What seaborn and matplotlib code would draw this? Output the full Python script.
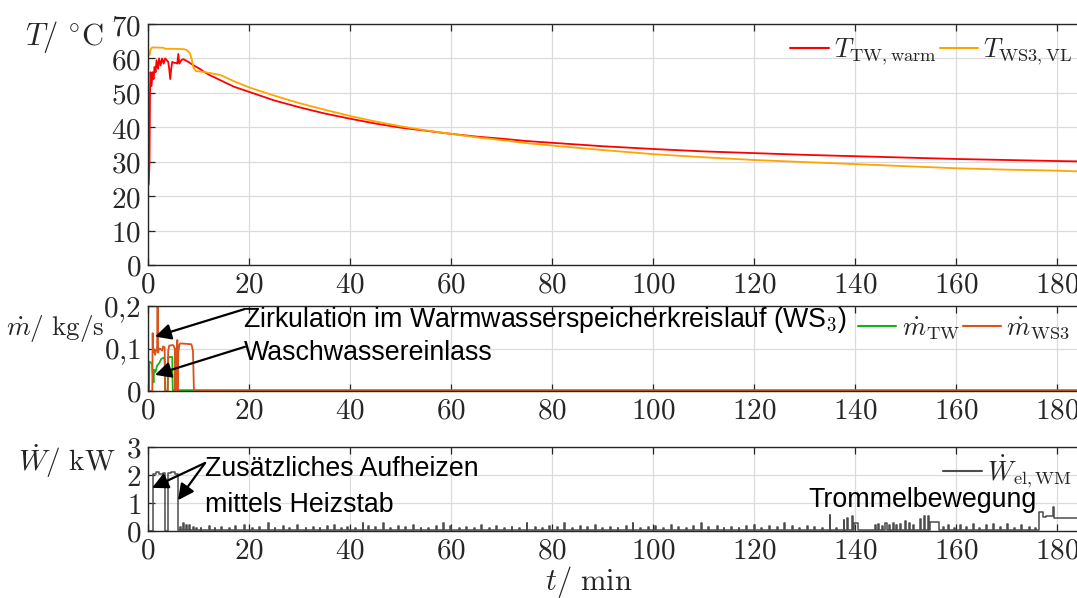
import matplotlib
matplotlib.use("Agg")
import matplotlib.pyplot as plt
import seaborn as sns
from matplotlib.lines import Line2D

# ---------------- data ----------------
t_T_warm = [0, 0.15, 0.3, 0.4, 0.5, 0.7, 0.9, 1.1, 1.3, 1.5, 1.7, 2.0, 2.2, 2.5, 2.8, 3.1, 3.4,
            3.7, 4.0, 4.2, 4.4, 4.6, 4.8, 5.2, 5.6, 5.8, 6.0, 6.2, 6.6, 7.0, 8.0, 9.0, 10.0,
            12, 14.3, 17, 20, 25, 30, 35, 40, 45, 50, 55, 60, 65, 70, 75, 80, 90, 100, 110,
            120, 130, 140, 150, 160, 170, 180, 184]
T_TW_warm = [23, 23.5, 30, 50, 56, 52, 56, 54, 57.5, 56, 59.5, 57, 60, 58, 60, 58.5, 60,
             59.5, 59, 57, 54, 57, 59, 58.7, 58.7, 58.5, 61.3, 58.5, 59.5, 59.8, 59, 58, 57.2,
             55.3, 53.7, 51.8, 50.3, 47.8, 45.8, 44.0, 42.5, 41.1, 39.9, 39.0, 38.1, 37.3, 36.7,
             36.0, 35.5, 34.5, 33.7, 33.0, 32.5, 32.0, 31.6, 31.2, 30.8, 30.5, 30.2, 30.1]

t_T_vl = [0, 0.3, 0.5, 0.8, 3.0, 3.5, 5.0, 7.0, 7.6, 8.3, 8.7, 9.0, 9.5, 11, 14.3, 17, 20, 25,
          30, 35, 40, 45, 50, 55, 60, 65, 70, 75, 80, 90, 100, 110, 120, 130, 140, 150, 160,
          170, 180, 184]
T_WS3_VL = [61.5, 61.0, 62.5, 63.2, 63.1, 62.8, 62.8, 62.7, 62.5, 61.5, 59.5, 57.3, 56.3, 56.1,
            55.2, 53.4, 51.6, 49.2, 47.0, 45.1, 43.3, 41.7, 40.3, 39.1, 38.1, 37.1, 36.3, 35.4,
            34.7, 33.4, 32.2, 31.3, 30.5, 29.9, 29.3, 28.7, 28.1, 27.7, 27.4, 27.2]

t_m_tw = [0, 0.2, 0.27, 0.8, 0.9, 1.1, 1.2, 1.5, 1.8, 2.2, 2.6, 3.0, 3.3, 3.4, 3.9, 4.0, 4.8,
          4.9, 9.0, 184]
m_TW = [0, 0, 0.069, 0.065, 0.045, 0.02, 0.05, 0.045, 0.06, 0.065, 0.075, 0.078, 0.075, 0,
        0, 0.08, 0.08, 0.002, 0.002, 0.002]

t_m_ws3 = [0, 0.85, 0.92, 1.0, 1.2, 1.4, 1.6, 1.8, 1.9, 2.0, 2.2, 2.6, 2.8, 3.0, 3.3, 3.4,
           3.9, 4.0, 4.2, 5.0, 5.3, 5.4, 5.6, 5.7, 5.8, 5.9, 6.0, 6.2, 6.4, 8.6, 8.9, 9.1, 184]
m_WS3 = [0, 0, 0.136, 0.092, 0.098, 0.085, 0.095, 0.1, 0.2, 0.09, 0.1, 0.098, 0.095, 0.105,
         0.103, 0.0, 0.0, 0.095, 0.107, 0.108, 0.1, 0.0, 0.1, 0.0, 0.12, 0.0, 0.09, 0.108,
         0.112, 0.11, 0.095, 0.0, 0.0]

# electrical power: main level changes
W_seg_t = [0, 0.92, 1.5, 2.2, 2.9, 3.45, 3.9, 4.6, 5.3, 5.9, 176.4, 177.3, 177.8, 179.2,
           179.5, 184.5]
W_seg_v = [0.0, 2.05, 2.09, 2.04, 2.08, 0.0, 2.06, 2.09, 2.05, 0.04, 0.69, 0.49, 0.53, 0.85,
           0.45, 0.45]
W_base = 0.04
# short peaks during the rest of the programme: start, width, height
spike_t = [6.3, 6.9, 7.5, 8.2, 8.9, 9.6, 10.4, 12.0, 13.2, 14.5, 16.0, 17.3, 19.0, 20.5, 22.0,
           23.8, 25.1, 26.7, 28.0, 29.5, 31.2, 32.6, 34.0, 35.4, 36.8, 38.2, 39.5, 41.0, 42.5,
           43.6, 45.0, 46.6, 48.0, 49.5, 51.0, 52.4, 54.0, 55.5, 57.0, 58.4, 59.8, 61.5, 63.0,
           64.5, 66.0, 67.5, 69.0, 70.5, 72.0, 73.5, 75.0, 76.6, 78.0, 79.5, 81.0, 82.4, 84.0,
           85.6, 87.0, 88.5, 90.0, 91.6, 93.0, 94.6, 96.0, 97.5, 99.0, 100.5, 102.0, 103.6,
           105.0, 106.6, 108.0, 109.6, 111.0, 112.6, 114.0, 115.5, 117.0, 118.5, 120.0, 121.5,
           123.0, 124.5, 126.0, 127.5, 129.0, 130.5, 132.0, 133.5, 135.0, 136.3, 137.8, 138.4,
           139.4, 139.8, 140.7, 143.9, 144.6, 145.3, 146.0, 146.8, 147.5, 148.2, 148.9, 150.0,
           150.8, 151.6, 153.0, 153.7, 154.4, 154.8, 157.5, 158.5, 159.6, 160.8, 162.0, 163.4,
           164.6, 166.0, 167.4, 168.8, 170.2, 171.6, 173.0, 174.4, 175.6]
spike_w = [0.2, 0.15, 0.2, 0.15, 0.2, 0.15, 0.15, 0.2, 0.15, 0.2, 0.15, 0.2, 0.15, 0.2, 0.15,
           0.2, 0.15, 0.2, 0.15, 0.2, 0.15, 0.2, 0.15, 0.2, 0.15, 0.2, 0.15, 0.2, 0.15,
           0.2, 0.15, 0.2, 0.15, 0.2, 0.15, 0.2, 0.15, 0.2, 0.15, 0.2, 0.15, 0.2, 0.15,
           0.2, 0.15, 0.2, 0.15, 0.2, 0.15, 0.2, 0.15, 0.2, 0.15, 0.2, 0.15, 0.2, 0.15,
           0.2, 0.15, 0.2, 0.15, 0.2, 0.15, 0.2, 0.15, 0.2, 0.15, 0.2, 0.15, 0.2,
           0.15, 0.2, 0.15, 0.2, 0.15, 0.2, 0.15, 0.2, 0.15, 0.2, 0.15, 0.2,
           0.15, 0.2, 0.15, 0.2, 0.15, 0.2, 0.15, 0.2, 0.15, 0.2, 0.15, 0.2,
           0.2, 0.9, 2.3, 0.2, 0.2, 0.2, 0.3, 0.2, 0.2, 0.2, 0.3, 0.2,
           0.2, 0.2, 0.2, 0.2, 0.2, 1.9, 0.2, 0.2, 0.2, 0.2, 0.2, 0.2,
           0.2, 0.2, 0.2, 0.2, 0.2, 0.2, 0.2, 0.2, 0.2]
spike_h = [0.15, 0.28, 0.2, 0.22, 0.15, 0.12, 0.1, 0.18, 0.1, 0.15, 0.1, 0.18, 0.22, 0.12, 0.15,
           0.27, 0.12, 0.18, 0.1, 0.22, 0.12, 0.15, 0.1, 0.18, 0.22, 0.12, 0.15, 0.1, 0.27,
           0.18, 0.15, 0.27, 0.12, 0.18, 0.15, 0.22, 0.12, 0.1, 0.18, 0.27, 0.18, 0.12, 0.15,
           0.1, 0.22, 0.12, 0.18, 0.1, 0.15, 0.12, 0.27, 0.15, 0.1, 0.18, 0.15, 0.27, 0.12,
           0.18, 0.15, 0.22, 0.1, 0.15, 0.12, 0.18, 0.27, 0.12, 0.15, 0.18, 0.12, 0.22,
           0.15, 0.1, 0.18, 0.27, 0.15, 0.18, 0.12, 0.15, 0.1, 0.18, 0.22, 0.12,
           0.18, 0.15, 0.27, 0.18, 0.12, 0.18, 0.15, 0.12, 0.57, 0.12, 0.39, 0.46,
           0.55, 0.27, 0.2, 0.2, 0.25, 0.18, 0.3, 0.22, 0.28, 0.2, 0.25, 0.37,
           0.3, 0.2, 0.43, 0.52, 0.55, 0.33, 0.15, 0.2, 0.12, 0.2, 0.15, 0.25,
           0.12, 0.2, 0.25, 0.15, 0.25, 0.12, 0.2, 0.15, 0.12]

x_ticks = [0, 20, 40, 60, 80, 100, 120, 140, 160, 180]
T_ticks = [0, 10, 20, 30, 40, 50, 60, 70]
m_ticks = [0, 0.1, 0.2]
m_ticklabels = ["$0$", "$0{,}1$", "$0{,}2$"]
W_ticks = [0, 1, 2, 3]

# ---------------- style ----------------
sns.set_theme(style="white")
plt.rcParams["mathtext.fontset"] = "cm"
plt.rcParams["font.family"] = ["Liberation Sans", "DejaVu Sans"]

W_pts = [(a, b) for a, b in zip(W_seg_t, W_seg_v)]
for s, w, h in zip(spike_t, spike_w, spike_h):
    W_pts.append((s, h))
    W_pts.append((s + w, W_base))
W_pts.sort(key=lambda p: p[0])
W_t = [p[0] for p in W_pts]
W_v = [p[1] for p in W_pts]

FW, FH = 1077, 598
fig = plt.figure(figsize=(FW / 100, FH / 100), dpi=100)
L = 148 / FW
Wd = (1077 - 148) / FW


def px(y_top, y_bot):
    return [L, 1 - y_bot / FH, Wd, (y_bot - y_top) / FH]


ax1 = fig.add_axes(px(24, 265))
ax2 = fig.add_axes(px(306, 391))
ax3 = fig.add_axes(px(447, 531))

kw = dict(estimator=None, sort=False, legend=False)
sns.lineplot(x=t_T_warm, y=T_TW_warm, ax=ax1, color="#FF0000", lw=1.3, **kw)
sns.lineplot(x=t_T_vl, y=T_WS3_VL, ax=ax1, color="#FFA500", lw=1.3, **kw)
sns.lineplot(x=t_m_tw, y=m_TW, ax=ax2, color="#14B414", lw=1.3, **kw)
sns.lineplot(x=t_m_ws3, y=m_WS3, ax=ax2, color="#D95319", lw=1.3, **kw)
sns.lineplot(x=W_t, y=W_v, ax=ax3, color="#4D4D4D", lw=1.1, drawstyle="steps-post", **kw)

tick_fs = 21
for ax, yt, ylim in [(ax1, T_ticks, (0, 70)), (ax2, m_ticks, (0, 0.2)), (ax3, W_ticks, (0, 3))]:
    ax.set_xlim(0, 184)
    ax.set_ylim(*ylim)
    ax.set_xticks(x_ticks)
    ax.set_xticklabels([f"${v}$" for v in x_ticks], fontsize=tick_fs)
    ax.set_yticks(yt)
    ax.grid(True, color="#DCDCDC", lw=0.9)
    ax.tick_params(axis="both", direction="in", length=5, width=0.9, color="#262626",
                   top=True, left=True, bottom=True, pad=5, labelcolor="#262626")
    ax.tick_params(axis="x", pad=4)
    for side in ["top", "left", "bottom"]:
        ax.spines[side].set_color("#262626")
        ax.spines[side].set_linewidth(1.0)
    ax.spines["right"].set_visible(False)
    ax.set_xlabel("")
    ax.set_ylabel("")

ax1.set_yticklabels([f"${v}$" for v in T_ticks], fontsize=tick_fs)
ax2.set_yticklabels(m_ticklabels, fontsize=tick_fs)
ax3.set_yticklabels([f"${v}$" for v in W_ticks], fontsize=tick_fs)


def ftext(x, y, s, **k):
    fig.text(x / FW, 1 - y / FH, s, **k)


ftext(25, 37, r"$T/\ ^{\circ}\mathrm{C}$", fontsize=22, va="center", ha="left", color="#262626")
ftext(6, 328, r"$\dot{m}/\ \mathrm{kg/s}$", fontsize=19.5, va="center", ha="left", color="#262626")
ftext(18, 461, r"$\dot{W}/\ \mathrm{kW}$", fontsize=21, va="center", ha="left", color="#262626")
ftext(589, 582, r"$t/\ \mathrm{min}$", fontsize=22, va="center", ha="center", color="#262626")


def leg(ax, handles, labels, x, y):
    ax.legend(handles, labels, loc="center right", bbox_to_anchor=(x / FW, 1 - y / FH),
              bbox_transform=fig.transFigure, ncol=len(handles), frameon=False, fontsize=19,
              handlelength=1.45, handletextpad=0.2, columnspacing=0.1, borderpad=0,
              borderaxespad=0)


leg(ax1, [Line2D([], [], color="#FF0000", lw=1.5), Line2D([], [], color="#FFA500", lw=1.5)],
    [r"$T_{\mathrm{TW,warm}}$", r"$T_{\mathrm{WS3,VL}}$"], 1072, 52)
leg(ax2, [Line2D([], [], color="#14B414", lw=1.5), Line2D([], [], color="#D95319", lw=1.5)],
    [r"$\dot{m}_{\mathrm{TW}}$", r"$\dot{m}_{\mathrm{WS3}}$"], 1070, 329)
leg(ax3, [Line2D([], [], color="#4D4D4D", lw=1.5)], [r"$\dot{W}_{\mathrm{el,WM}}$"], 1072, 472)

# annotations
arrow = dict(arrowstyle="-|>", color="black", lw=1.6, mutation_scale=24, shrinkA=0, shrinkB=0)
ann_fs = 19.3
ax2.annotate("", xy=(1.39, 0.128), xytext=(19.2, 0.193), arrowprops=arrow, annotation_clip=False)
ax2.annotate("", xy=(1.39, 0.038), xytext=(19.2, 0.104), arrowprops=arrow, annotation_clip=False)
ax2.text(18.9, 0.167, r"Zirkulation im Warmwasserspeicherkreislauf (WS$_3$)", fontsize=ann_fs,
         ha="left", va="center", color="black")
ax2.text(18.9, 0.089, "Waschwassereinlass", fontsize=ann_fs, ha="left", va="center", color="black")

ax3.annotate("", xy=(0.8, 1.54), xytext=(11.3, 2.43), arrowprops=arrow, annotation_clip=False)
ax3.annotate("", xy=(5.94, 1.1), xytext=(11.3, 2.43), arrowprops=arrow, annotation_clip=False)
ax3.text(11.2, 2.2, "Zusätzliches Aufheizen", fontsize=ann_fs, ha="left", va="center", color="black")
ax3.text(11.2, 0.93, "mittels Heizstab", fontsize=ann_fs, ha="left", va="center", color="black")
ax3.text(130.7, 1.1, "Trommelbewegung", fontsize=ann_fs, ha="left", va="center", color="black")

fig.savefig("out.png", dpi=100)
